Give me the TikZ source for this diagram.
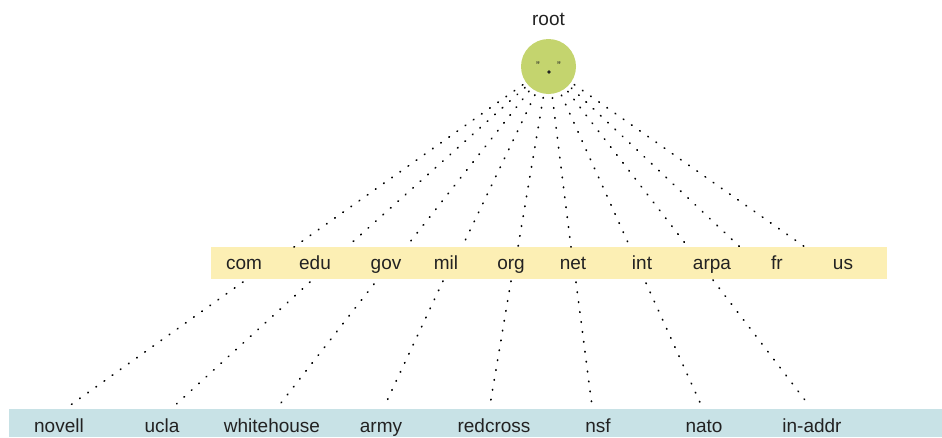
\documentclass[tikz,border=0pt]{standalone}
\usepackage{fontspec}
\setmainfont{Liberation Sans}
\definecolor{tldfill}{HTML}{FCEFB4}
\definecolor{leaffill}{HTML}{C8E2E6}
\definecolor{rootfill}{HTML}{C4D46E}
\definecolor{txt}{HTML}{222222}
\begin{document}
\begin{tikzpicture}[x=1pt,y=-1pt,
  lbl/.style={font=\fontsize{19}{22}\selectfont, text=txt, inner sep=0pt, anchor=base},
  dotline/.style={draw=black, line width=1.7pt, dash pattern=on 0.6pt off 9.4pt, line cap=round},
  quote/.style={font=\fontsize{11}{11}\selectfont, inner sep=0pt, text=txt}]
\useasboundingbox (0,0) rectangle (942,437);
% bands
\fill[tldfill] (211,247) rectangle (887,279);
\fill[leaffill] (9,409) rectangle (942,437);
% root
\node[circle, fill=rootfill, minimum size=55pt, inner sep=0pt, outer sep=4pt] (root) at (548.5,66.5) {};
\node[lbl] (rootlbl) at (548.5,25) {root};
\node[quote] (q1) at (538,66) {"};
\node[quote] (q2) at (559,66) {"};
\fill[txt] (549,72) circle (1.8pt);
% TLD labels
\foreach \n/\x in {com/244,edu/315,gov/386,mil/446,org/511,net/573,int/642,arpa/712,fr/777,us/843}
  \node[lbl] (\n) at (\x,269) {\n};
% leaf labels
\foreach \n/\x in {novell/59,ucla/162,whitehouse/272,army/381,redcross/494,nsf/598,nato/704,in-addr/812}
  \node[lbl] (\n) at (\x,432) {\n};
% root connector ends
\foreach \i/\x in {1/294,2/347,3/406,4/462,5/518,6/571,7/630,8/688,9/740,10/805}{
  \coordinate (t\i) at (\x,247);
  \draw[dotline] (root) -- (t\i);
}
% lower connectors
\foreach \i/\xa/\ya/\xb/\yb in {1/243/282/65/409,2/310/282/171/409,3/374/284/277/408,4/443/281/385/405,5/511/281/490/405,6/576/282/592/406,7/646/283/702/407,8/713/280/808/404}{
  \coordinate (u\i) at (\xa,\ya);
  \coordinate (v\i) at (\xb,\yb);
  \draw[dotline] (u\i) -- (v\i);
}
\end{tikzpicture}
\end{document}
